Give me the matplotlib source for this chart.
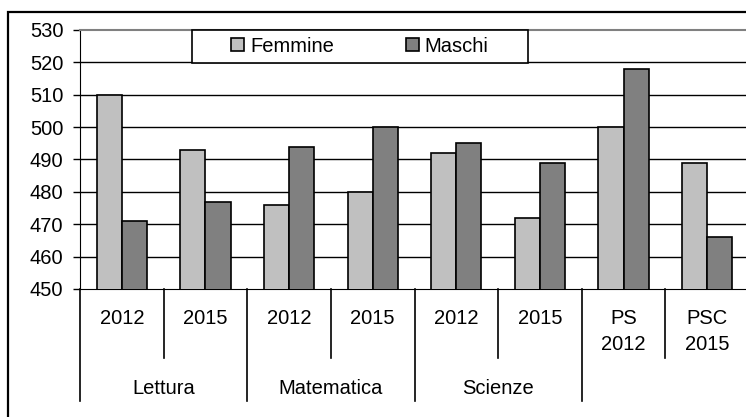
import numpy as np
import matplotlib
matplotlib.use("Agg")
import matplotlib.pyplot as plt
from matplotlib import transforms
from matplotlib.patches import Rectangle

### data
years = ["2012", "2015", "2012", "2015", "2012", "2015", "PS\n2012", "PSC\n2015"]
groups = ["Lettura", "Matematica", "Scienze"]
femmine = [510, 493, 476, 480, 492, 472, 500, 489]
maschi = [471, 477, 494, 500, 495, 489, 518, 466]
yticks = [450, 460, 470, 480, 490, 500, 510, 520, 530]
###---------------------------------------------------------------------

plt.rcParams["font.family"] = ["Liberation Sans", "DejaVu Sans"]
plt.rcParams["font.size"] = 14.5

W, H = 746, 417
fig = plt.figure(figsize=(W / 100, H / 100), dpi=100)
ax = fig.add_axes([80 / W, (H - 289) / H, (749 - 80) / W, (289 - 30) / H])

# outer chart border (cut off at right and bottom, like the reference)
fig.patches.append(Rectangle((8 / W, -0.2), 1.2, 1.2 - 11.5 / H,
                             transform=fig.transFigure, fill=False,
                             edgecolor="black", lw=1.6))

x = np.arange(len(years))
bw = 0.3
ax.bar(x - bw / 2, femmine, bw, color="#c0c0c0", edgecolor="black", lw=1.2,
       label="Femmine", zorder=3)
ax.bar(x + bw / 2, maschi, bw, color="#808080", edgecolor="black", lw=1.2,
       label="Maschi", zorder=3)

ax.set_ylim(yticks[0], yticks[-1])
ax.set_xlim(-0.5, len(years) - 0.5)
ax.set_yticks(yticks)
for v in yticks[1:-1]:
    ax.axhline(v, color="black", lw=1, zorder=1)
ax.tick_params(axis="y", direction="out", length=5, width=1, pad=7)
ax.set_xticks([])
ax.spines["right"].set_visible(False)
ax.spines["top"].set_color("#808080")
ax.spines["top"].set_linewidth(1.5)

# hierarchical category axis
tr = transforms.blended_transform_factory(ax.transData, ax.transAxes)
inner = -69 / 259
outer = -112 / 259
for i in range(len(years) + 1):
    xb = i - 0.5
    low = outer if i % 2 == 0 else inner
    ax.plot([xb, xb], [0, low], color="black", lw=1.2, transform=tr, clip_on=False)
for i, lab in enumerate(years):
    yy = -42.5 / 259 if "\n" in lab else -30 / 259
    ax.text(i, yy, lab, transform=tr, ha="center", va="center", linespacing=1.4)
for j, g in enumerate(groups):
    ax.text(2 * j + 0.5, -99 / 259, g, transform=tr, ha="center", va="center")

# legend box
x0 = (192 - 80) / 669
x1 = (528 - 80) / 669
y0 = (289 - 63) / 259
ax.add_patch(Rectangle((x0, y0), x1 - x0, 1 - y0, transform=ax.transAxes,
                       facecolor="white", edgecolor="black", lw=1.2, zorder=4,
                       clip_on=False))
leg = ax.legend(loc="center", bbox_to_anchor=((x0 + x1) / 2, (y0 + 1) / 2),
                ncol=2, frameon=False, handlelength=0.62, handleheight=0.62,
                handletextpad=0.3, columnspacing=3.6, borderaxespad=0,
                borderpad=0)
leg.set_zorder(5)

plt.savefig("out.png", dpi=100)
